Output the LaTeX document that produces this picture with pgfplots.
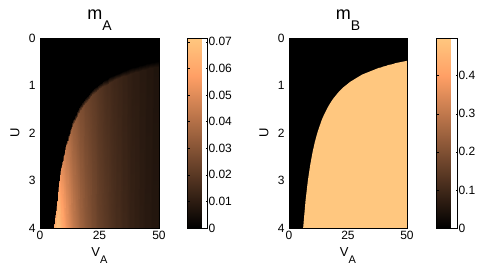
\documentclass[border=0pt]{standalone}
\usepackage{pgfplots}
\pgfplotsset{compat=1.18}
\usepackage{pgfplotstable}
\usepackage{fontspec}
\setmainfont{Liberation Sans}

\pgfplotsset{colormap={copper}{rgb(0pt)=(0,0,0) rgb(8pt)=(1,0.625,0.398) rgb(10pt)=(1,0.7812,0.4975)}}
\definecolor{coppermax}{rgb}{1,0.7812,0.4975}

% lattice for m_A: row 1 = boundary (fade), row 2 = just inside, row 3 = U=4
\pgfplotstableread{
V U m
6 4.00 0
7 3.43 0
8 3.00 0
9 2.67 0
10 2.40 0
11 2.18 0
12 2.00 0
13 1.85 0
14 1.71 0
15 1.60 0
16 1.50 0
17 1.41 0
18 1.33 0
19 1.26 0
20 1.20 0
21 1.14 0
22 1.09 0
23 1.04 0
24 1.00 0
25 0.96 0
26 0.92 0
27 0.89 0
28 0.86 0
29 0.83 0
30 0.80 0
31 0.77 0
32 0.75 0
33 0.73 0
34 0.71 0
35 0.69 0
36 0.67 0
37 0.65 0
38 0.63 0
39 0.62 0
40 0.60 0
41 0.59 0
42 0.57 0
43 0.56 0
44 0.55 0
45 0.53 0
46 0.52 0
47 0.51 0
48 0.50 0
49 0.49 0
50 0.48 0
6 4.00 0.060
7 3.55 0.062
8 3.12 0.058
9 2.79 0.052
10 2.52 0.047
11 2.30 0.043
12 2.12 0.040
13 1.97 0.037
14 1.83 0.034
15 1.72 0.032
16 1.62 0.030
17 1.53 0.028
18 1.45 0.027
19 1.38 0.025
20 1.32 0.024
21 1.26 0.023
22 1.21 0.022
23 1.16 0.021
24 1.12 0.020
25 1.08 0.019
26 1.04 0.018
27 1.01 0.017
28 0.98 0.016
29 0.95 0.016
30 0.92 0.015
31 0.89 0.014
32 0.87 0.014
33 0.85 0.013
34 0.83 0.013
35 0.81 0.012
36 0.79 0.012
37 0.77 0.011
38 0.75 0.011
39 0.74 0.010
40 0.72 0.010
41 0.71 0.010
42 0.69 0.009
43 0.68 0.009
44 0.67 0.009
45 0.65 0.008
46 0.64 0.008
47 0.63 0.008
48 0.62 0.007
49 0.61 0.007
50 0.60 0.007
6 4 0.062
7 4 0.070
8 4 0.068
9 4 0.063
10 4 0.058
11 4 0.054
12 4 0.050
13 4 0.047
14 4 0.044
15 4 0.041
16 4 0.039
17 4 0.036
18 4 0.034
19 4 0.032
20 4 0.030
21 4 0.029
22 4 0.027
23 4 0.026
24 4 0.024
25 4 0.023
26 4 0.022
27 4 0.021
28 4 0.020
29 4 0.019
30 4 0.018
31 4 0.017
32 4 0.016
33 4 0.016
34 4 0.015
35 4 0.014
36 4 0.014
37 4 0.013
38 4 0.012
39 4 0.012
40 4 0.011
41 4 0.011
42 4 0.010
43 4 0.010
44 4 0.009
45 4 0.009
46 4 0.009
47 4 0.008
48 4 0.008
49 4 0.008
50 4 0.007
}\tblA

% m_B region (value ~0.499): boundary then closing along U=4
\pgfplotstableread{
V U
6 4.00
7 3.43
8 3.00
9 2.67
10 2.40
11 2.18
12 2.00
13 1.85
14 1.71
15 1.60
16 1.50
17 1.41
18 1.33
19 1.26
20 1.20
21 1.14
22 1.09
23 1.04
24 1.00
25 0.96
26 0.92
27 0.89
28 0.86
29 0.83
30 0.80
31 0.77
32 0.75
33 0.73
34 0.71
35 0.69
36 0.67
37 0.65
38 0.63
39 0.62
40 0.60
41 0.59
42 0.57
43 0.56
44 0.55
45 0.53
46 0.52
47 0.51
48 0.50
49 0.49
50 0.48
50 4.00
}\tblB

\pgfplotsset{
  panel/.style={
    scale only axis, height=190pt,
    xmin=0, xmax=50, ymin=0, ymax=4, y dir=reverse,
    xtick={0,25,50}, ytick={0,1,2,3,4},
    tick align=inside, major tick length=3pt,
    tick style={black, line width=0.4pt},
    axis line style={line width=0.5pt},
    axis background/.style={fill=black},
    ticklabel style={font=\fontsize{12}{13}\selectfont},
    /pgf/number format/assume math mode=true,
    xticklabel style={yshift=0pt},
    yticklabel style={xshift=-1pt},
    xlabel={V\raisebox{-7.5pt}{\fontsize{11}{11}\selectfont A}},
    xlabel style={font=\fontsize{13}{13}\selectfont, anchor=base, yshift=-28.5pt},
    ylabel={U},
    ylabel style={font=\fontsize{13}{13}\selectfont, anchor=center},
    title style={font=\fontsize{18}{18}\selectfont, anchor=base, yshift=13pt},
    colormap name=copper,
    colorbar,
  },
  cbar/.style={
    at={(parent axis.north east)}, anchor=north west,
    scale only axis, height=190pt,
    scaled y ticks=false,
    tick align=inside, major tick length=2pt,
    tick style={black, line width=0.4pt},
    yticklabel style={font=\fontsize{12}{13}\selectfont,
      /pgf/number format/fixed, /pgf/number format/precision=2,
      /pgf/number format/assume math mode=true, xshift=-2.5pt},
  },
}

\begin{document}
\begin{tikzpicture}
\useasboundingbox (0,0) rectangle (488pt,267pt);
\begin{axis}[panel, at={(40pt,39pt)}, anchor=south west, width=119pt,
  title={m\raisebox{-11pt}{\fontsize{14}{14}\selectfont A}},
  title style={at={(axis description cs:0.5,1)}},
  xlabel style={at={(axis description cs:0.5,0)}},
  ylabel style={at={(axis description cs:-0.21,0.5)}},
  point meta min=0, point meta max=0.0714,
  colorbar style={cbar, xshift=20pt, width=20pt,
    ytick={0,0.01,0.02,0.03,0.04,0.05,0.06,0.07}}]
\addplot[patch, patch type=rectangle, mesh input=lattice, mesh/cols=45,
  shader=interp, point meta=\thisrow{m}] table[x=V, y=U] {\tblA};
\end{axis}
\begin{axis}[panel, at={(289pt,39pt)}, anchor=south west, width=118pt,
  title={m\raisebox{-11pt}{\fontsize{14}{14}\selectfont B}},
  title style={at={(axis description cs:0.5,1)}},
  xlabel style={at={(axis description cs:0.5,0)}},
  ylabel style={at={(axis description cs:-0.212,0.5)}},
  point meta min=0, point meta max=0.499,
  colorbar style={cbar, xshift=21pt, width=21pt,
    ytick={0,0.1,0.2,0.3,0.4}}]
\addplot[fill=coppermax, draw=none] table[x=V, y=U] {\tblB};
\end{axis}
\end{tikzpicture}
\end{document}
